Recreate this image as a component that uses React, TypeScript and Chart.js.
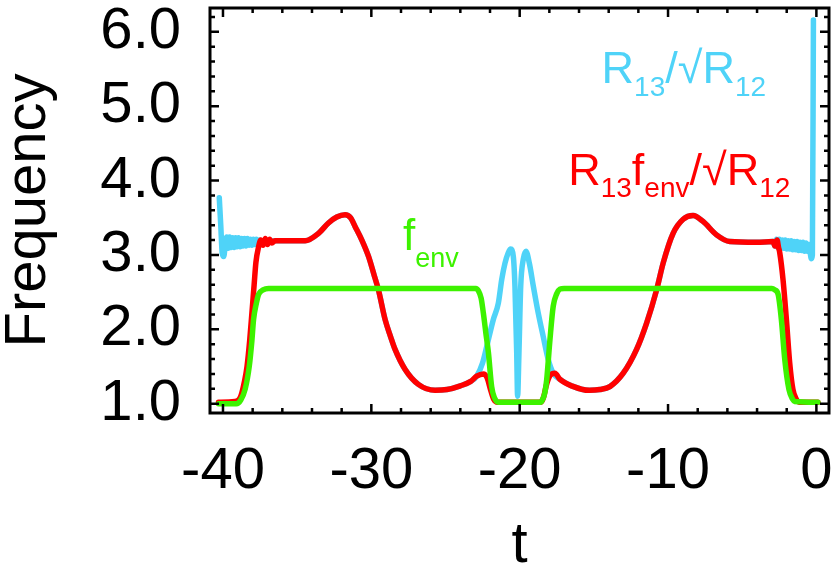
import React, { useEffect, useRef } from 'react';
import { Chart, registerables } from 'chart.js';
Chart.register(...registerables);

const FONT = "'Liberation Sans', Arial, Helvetica, sans-serif";

// ---- data ----
const cyanLeftT = [-40.25, -40.15, -40.05, -39.95, -39.85, -39.75, -39.65, -39.55, -39.45, -39.35, -39.25, -39.15, -39.05, -38.95, -38.85, -38.75, -38.65, -38.55, -38.45, -38.35, -38.25, -38.15, -38.05, -37.95, -37.85, -37.75, -37.65, -37.55, -37.45, -37.3, -37.2];
const cyanLeftV = [3.77, 3.4, 3.02, 2.98, 3.12, 3.24, 3.09, 3.24, 3.1, 3.23, 3.1, 3.23, 3.11, 3.23, 3.11, 3.22, 3.12, 3.22, 3.12, 3.22, 3.13, 3.21, 3.13, 3.21, 3.14, 3.21, 3.15, 3.2, 3.16, 3.19, 3.18];

const humpLeftT = [-36.5, -35.5, -34.46, -33.56, -32.89, -32.33, -31.77, -31.4, -31.09, -30.64, -30.19, -29.8, -29.52, -29.07, -28.7, -28.4, -27.72, -26.83, -25.7, -24.9, -24.0, -23.3, -22.9];
const humpLeftV = [3.19, 3.19, 3.19, 3.29, 3.43, 3.51, 3.54, 3.5, 3.38, 3.2, 2.98, 2.72, 2.53, 2.13, 1.9, 1.73, 1.46, 1.26, 1.18, 1.19, 1.24, 1.3, 1.37];

const cyanMidT = [-22.5, -22.22, -21.78, -21.44, -21.21, -20.99, -20.77, -20.61, -20.43, -20.32, -20.2, -20.14, -20.05, -19.93, -19.76, -19.58, -19.35, -19.08, -18.75, -18.41, -18.07, -17.74];
const cyanMidV = [1.55, 1.77, 2.13, 2.35, 2.67, 2.89, 3.03, 3.08, 2.98, 2.58, 1.68, 1.1, 1.68, 2.58, 2.94, 3.05, 2.89, 2.58, 2.22, 1.9, 1.59, 1.41];

const humpRightT = [-17.3, -16.5, -15.3, -14.6, -13.92, -13.02, -12.12, -11.45, -10.77, -10.33, -9.66, -8.98, -8.31, -7.64, -6.73, -5.84, -4.04, -2.92];
const humpRightV = [1.33, 1.24, 1.18, 1.19, 1.23, 1.41, 1.73, 2.08, 2.53, 2.89, 3.29, 3.48, 3.53, 3.45, 3.27, 3.18, 3.17, 3.18];

const cyanRightT = [-2.8, -2.7, -2.6, -2.5, -2.4, -2.3, -2.2, -2.1, -2.0, -1.9, -1.8, -1.7, -1.6, -1.5, -1.4, -1.3, -1.2, -1.1, -1.0, -0.9, -0.8, -0.7, -0.6, -0.5, -0.42, -0.34, -0.27, -0.2];
const cyanRightV = [3.12, 3.21, 3.1, 3.21, 3.09, 3.2, 3.09, 3.2, 3.08, 3.19, 3.08, 3.19, 3.07, 3.18, 3.07, 3.18, 3.06, 3.17, 3.06, 3.17, 3.05, 3.16, 3.05, 3.14, 3.03, 2.95, 3.0, 6.16];

const redLeftT = [-40.3, -39.2, -38.8, -38.55, -38.38, -38.2, -38.05, -37.9, -37.78, -37.6, -37.45, -37.3, -37.15, -37.0, -36.85, -36.7];
const redLeftV = [1.02, 1.03, 1.1, 1.3, 1.5, 1.85, 2.22, 2.6, 2.9, 3.11, 3.2, 3.13, 3.22, 3.14, 3.21, 3.16];

const redMidT = [-22.45, -22.2, -21.95, -21.75, -21.5, -18.6, -18.4, -18.2, -17.95, -17.62];
const redMidV = [1.4, 1.35, 1.18, 1.06, 1.02, 1.02, 1.08, 1.25, 1.38, 1.41];

const redRightT = [-2.8, -2.65, -2.55, -2.47, -2.25, -2.02, -1.8, -1.58, -1.35, -1.13, 0.1];
const redRightV = [3.12, 3.2, 3.1, 3.03, 2.67, 2.13, 1.55, 1.19, 1.06, 1.02, 1.02];

const greenT = [-40.3, -39.1, -38.8, -38.5, -38.23, -38.05, -37.94, -37.75, -37.6, -37.3, -36.93, -22.95, -22.79, -22.6, -22.45, -22.28, -22.11, -21.89, -21.7, -21.44, -18.6, -18.45, -18.3, -18.18, -17.96, -17.74, -17.5, -17.29, -17.0, -3.0, -2.8, -2.58, -2.36, -2.13, -1.85, -1.6, -1.47, 0.1];
const greenV = [1.0, 1.0, 1.05, 1.2, 1.5, 1.85, 2.13, 2.35, 2.47, 2.53, 2.55, 2.55, 2.52, 2.42, 2.22, 1.95, 1.69, 1.23, 1.08, 1.02, 1.02, 1.06, 1.15, 1.32, 1.86, 2.31, 2.48, 2.54, 2.55, 2.55, 2.53, 2.47, 2.13, 1.59, 1.19, 1.06, 1.03, 1.02];

const X_MIN = -40.875;
const X_MAX = 0.85;
const Y_MIN = 0.875;
const Y_MAX = 6.32;
const X_MAJOR = 10;
const X_MINOR = 2;
const Y_MAJOR = 1;
const Y_MINOR = 0.2;

const CYAN = '#4fd3f8';
const RED = '#ff0000';
const GREEN = '#3df200';

// label anchor positions in data coordinates
const cyanLabelAt = { x: -14.48, y: 5.31 };
const redLabelAt = { x: -16.73, y: 3.94 };
const greenLabelAt = { x: -27.86, y: 3.07 };

const zip = (ts: number[], vs: number[]) => ts.map((t, i) => ({ x: t, y: vs[i] }));

const cyanData = [
  ...zip(cyanLeftT, cyanLeftV),
  ...zip(humpLeftT, humpLeftV),
  ...zip(cyanMidT, cyanMidV),
  ...zip(humpRightT, humpRightV),
  ...zip(cyanRightT, cyanRightV),
];
const redData = [
  ...zip(redLeftT, redLeftV),
  ...zip(humpLeftT, humpLeftV),
  ...zip(redMidT, redMidV),
  ...zip(humpRightT, humpRightV),
  ...zip(redRightT, redRightV),
];
const greenData = zip(greenT, greenV);

type Piece = { text: string; size: number; dy: number };

function drawRich(ctx: CanvasRenderingContext2D, x: number, y: number, pieces: Piece[], color: string) {
  ctx.save();
  ctx.fillStyle = color;
  ctx.textBaseline = 'alphabetic';
  ctx.textAlign = 'left';
  let cx = x;
  for (const p of pieces) {
    ctx.font = `${p.size}px ${FONT}`;
    ctx.fillText(p.text, cx, y + p.dy);
    cx += ctx.measureText(p.text).width;
  }
  ctx.restore();
}

const framePlugin = {
  id: 'frameTicks',
  afterDatasetsDraw(chart: any) {
    const { ctx, chartArea: a, scales } = chart;
    const xs = scales.x;
    const ys = scales.y;
    ctx.save();
    ctx.strokeStyle = '#000';
    ctx.lineWidth = 2.5;
    ctx.lineCap = 'butt';
    ctx.beginPath();
    const start = Math.ceil(X_MIN / X_MINOR) * X_MINOR;
    for (let v = start; v <= X_MAX + 1e-9; v += X_MINOR) {
      const major = Math.abs(v / X_MAJOR - Math.round(v / X_MAJOR)) < 1e-6;
      const len = major ? 9 : 5;
      const px = xs.getPixelForValue(v);
      ctx.moveTo(px, a.bottom);
      ctx.lineTo(px, a.bottom - len);
      ctx.moveTo(px, a.top);
      ctx.lineTo(px, a.top + len);
    }
    const ystart = Math.ceil(Y_MIN / Y_MINOR - 1e-6) * Y_MINOR;
    for (let v = ystart; v <= Y_MAX + 1e-9; v += Y_MINOR) {
      const major = Math.abs(v / Y_MAJOR - Math.round(v / Y_MAJOR)) < 1e-6;
      const len = major ? 9 : 5;
      const py = ys.getPixelForValue(v);
      ctx.moveTo(a.left, py);
      ctx.lineTo(a.left + len, py);
      ctx.moveTo(a.right, py);
      ctx.lineTo(a.right - len, py);
    }
    ctx.stroke();
    ctx.lineWidth = 3;
    ctx.strokeRect(a.left, a.top, a.right - a.left, a.bottom - a.top);
    ctx.restore();

    drawRich(ctx, xs.getPixelForValue(cyanLabelAt.x), ys.getPixelForValue(cyanLabelAt.y), [
      { text: 'R', size: 45, dy: 0 },
      { text: '13', size: 28, dy: 13 },
      { text: '/\u221A', size: 45, dy: 0 },
      { text: 'R', size: 45, dy: 0 },
      { text: '12', size: 28, dy: 13 },
    ], CYAN);
    drawRich(ctx, xs.getPixelForValue(redLabelAt.x), ys.getPixelForValue(redLabelAt.y), [
      { text: 'R', size: 45, dy: 0 },
      { text: '13', size: 28, dy: 12 },
      { text: 'f', size: 45, dy: 0 },
      { text: 'env', size: 28, dy: 12 },
      { text: '/\u221A', size: 45, dy: 0 },
      { text: 'R', size: 45, dy: 0 },
      { text: '12', size: 28, dy: 12 },
    ], RED);
    drawRich(ctx, xs.getPixelForValue(greenLabelAt.x), ys.getPixelForValue(greenLabelAt.y), [
      { text: 'f', size: 44, dy: 0 },
      { text: 'env', size: 27, dy: 17 },
    ], GREEN);
  },
};

export default function App() {
  const ref = useRef<HTMLCanvasElement | null>(null);
  useEffect(() => {
    if (!ref.current) return;
    const lineOpts = {
      pointRadius: 0,
      borderWidth: 5.5,
      fill: false,
      cubicInterpolationMode: 'monotone' as const,
      borderJoinStyle: 'round' as const,
      borderCapStyle: 'round' as const,
    };
    const chart = new Chart(ref.current, {
      type: 'line',
      data: {
        datasets: [
          { label: 'R13/sqrtR12', data: cyanData, borderColor: CYAN, order: 3, ...lineOpts },
          { label: 'R13 fenv/sqrtR12', data: redData, borderColor: RED, order: 2, ...lineOpts },
          { label: 'fenv', data: greenData, borderColor: GREEN, order: 1, ...lineOpts },
        ],
      },
      options: {
        animation: false,
        responsive: false,
        devicePixelRatio: 1,
        layout: { padding: { top: 8, right: 2, left: 0, bottom: 0 } },
        plugins: { legend: { display: false }, tooltip: { enabled: false } },
        scales: {
          x: {
            type: 'linear',
            min: X_MIN,
            max: X_MAX,
            grid: { display: false, drawTicks: false },
            border: { display: false },
            ticks: {
              stepSize: X_MAJOR,
              includeBounds: false,
              color: '#000',
              padding: 24,
              maxRotation: 0,
              autoSkip: false,
              font: { family: FONT, size: 58, lineHeight: 1.2 },
              callback: (v: any) => String(v),
            },
            title: {
              display: true,
              text: 't',
              color: '#000',
              font: { family: FONT, size: 58, lineHeight: 1 },
              padding: { top: 0, bottom: 0 },
            },
            afterFit: (s: any) => {
              s.height = 162;
              s.paddingLeft = 0;
              s.paddingRight = 0;
              s.paddingTop = 0;
              s.paddingBottom = 0;
            },
          },
          y: {
            type: 'linear',
            min: Y_MIN,
            max: Y_MAX,
            grid: { display: false, drawTicks: false },
            border: { display: false },
            ticks: {
              stepSize: Y_MAJOR,
              includeBounds: false,
              color: '#000',
              padding: 29,
              autoSkip: false,
              font: { family: FONT, size: 58, lineHeight: 1.2 },
              callback: (v: any) => Number(v).toFixed(1),
            },
            title: {
              display: true,
              text: 'Frequency',
              color: '#000',
              font: { family: FONT, size: 58, lineHeight: 1 },
              padding: { top: 0, bottom: 0 },
            },
            afterFit: (s: any) => {
              s.width = 210;
              s.paddingLeft = 0;
              s.paddingRight = 0;
              s.paddingTop = 0;
              s.paddingBottom = 0;
            },
          },
        },
      },
      plugins: [framePlugin],
    });
    return () => chart.destroy();
  }, []);
  return (
    <div style={{ position: 'fixed', left: 0, top: 0, width: 831, height: 575, background: '#fff' }}>
      <canvas ref={ref} width={831} height={575} style={{ width: 831, height: 575, display: 'block' }} />
    </div>
  );
}
